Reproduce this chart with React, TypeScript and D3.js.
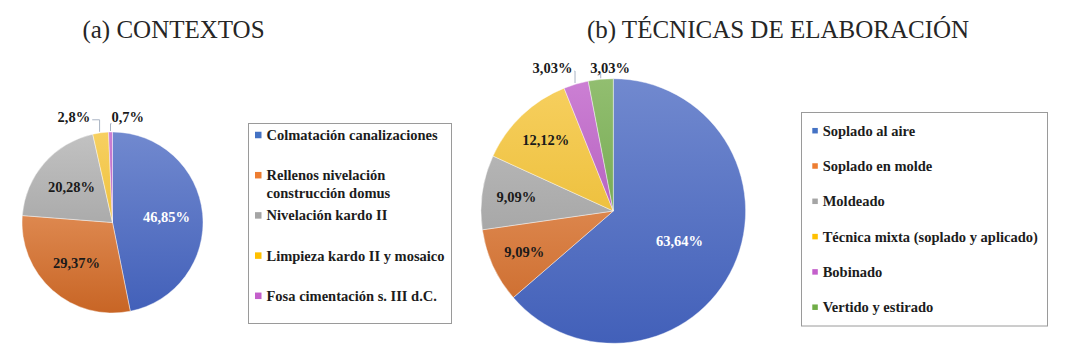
import React from "react";
import * as d3 from "d3";

// ---------- DATA ----------
const contextTitle = "(a) CONTEXTOS";
const contextCategories = [
  "Colmatación canalizaciones",
  "Rellenos nivelación construcción domus",
  "Nivelación kardo II",
  "Limpieza kardo II y mosaico",
  "Fosa cimentación s. III d.C.",
];
const contextValues = [46.85, 29.37, 20.28, 2.8, 0.7];

const techniqueTitle = "(b) TÉCNICAS DE ELABORACIÓN";
const techniqueCategories = [
  "Soplado al aire",
  "Soplado en molde",
  "Moldeado",
  "Técnica mixta (soplado y aplicado)",
  "Bobinado",
  "Vertido y estirado",
];
const techniqueValues = [63.64, 9.09, 9.09, 12.12, 3.03, 3.03];

// ---------- STYLE ----------
const sliceTop = ["#7189cf", "#f0a673", "#c2c2c2", "#f7d060", "#cc80d4", "#92be70"];
const sliceBottom = ["#4260b9", "#c86525", "#949494", "#e5b21e", "#a247ae", "#5e9a3a"];
const legendColor = ["#4472c4", "#ed7d31", "#a5a5a5", "#ffc000", "#c45fcb", "#70ad47"];
const FONT = "'Liberation Serif', 'Times New Roman', serif";

const fmt = (v: number) => String(v).replace(".", ",") + "%";

let measureCtx: CanvasRenderingContext2D | null = null;
function textWidth(t: string, font: string) {
  if (!measureCtx) measureCtx = document.createElement("canvas").getContext("2d");
  if (!measureCtx) return t.length * 7;
  measureCtx.font = font;
  return measureCtx.measureText(t).width;
}
function wrap(t: string, maxW: number, font: string) {
  const words = t.split(" ");
  const lines: string[] = [];
  let cur = "";
  for (const w of words) {
    const test = cur ? cur + " " + w : w;
    if (textWidth(test, font) > maxW && cur) {
      lines.push(cur);
      cur = w;
    } else cur = test;
  }
  if (cur) lines.push(cur);
  return lines;
}

type Layout = {
  id: string;
  cx: number;
  cy: number;
  r: number;
  titleX: number;
  insideFrac: number;
  bigFrac: number;
  outsideOffsets: { dx: number; dy: number }[];
  box: { x0: number; x1: number; y0: number; y1: number };
  markerX: number;
  markerSize: number;
  textX: number;
  rowY0: number;
  rowStep: number;
  wrapW: number;
};

function PieChart({
  title,
  categories,
  values,
  L,
}: {
  title: string;
  categories: string[];
  values: number[];
  L: Layout;
}) {
  const pie = d3.pie<number>().sort(null).value((d) => d).startAngle(0).endAngle(2 * Math.PI);
  const arcs = pie(values);
  const arc = d3.arc<d3.PieArcDatum<number>>().innerRadius(0).outerRadius(L.r);
  const labelFont = `bold 14.5px ${FONT}`;
  const legendFont = `bold 14.5px ${FONT}`;
  const maxV = d3.max(values) as number;

  let smallIdx = 0;
  const labels = arcs.map((a, i) => {
    const mid = (a.startAngle + a.endAngle) / 2;
    const txt = fmt(values[i]);
    if (values[i] >= 5) {
      const f = values[i] === maxV && values[i] > 40 ? L.bigFrac : L.insideFrac;
      const x = L.cx + Math.sin(mid) * L.r * f;
      const y = L.cy - Math.cos(mid) * L.r * f;
      return (
        <text
          key={"l" + i}
          x={x}
          y={y}
          dy="0.35em"
          textAnchor="middle"
          style={{ font: labelFont }}
          fill={i === 0 ? "#ffffff" : "#1a1a1a"}
        >
          {txt}
        </text>
      );
    }
    const off = L.outsideOffsets[smallIdx++] || { dx: 0, dy: -15 };
    const ex = L.cx + Math.sin(mid) * L.r;
    const ey = L.cy - Math.cos(mid) * L.r;
    const lx = ex + off.dx;
    const ly = ey + off.dy;
    const w = textWidth(txt, labelFont);
    const left = lx - w / 2;
    const right = lx + w / 2;
    let path: string;
    if (right < ex) path = `M${right + 2},${ly + 3} H${ex - 1} V${ey - 1}`;
    else if (left > ex) path = `M${left},${ly + 7} H${ex} V${ey - 1}`;
    else path = `M${ex},${ly + 6} V${ey - 1}`;
    return (
      <g key={"l" + i}>
        <path d={path} fill="none" stroke="#a9b3c3" strokeWidth={1} />
        <text x={lx} y={ly} dy="0.35em" textAnchor="middle" style={{ font: labelFont }} fill="#1a1a1a">
          {txt}
        </text>
      </g>
    );
  });

  let rowY = L.rowY0;
  const legendItems = categories.map((c, i) => {
    const lines = wrap(c, L.wrapW, legendFont);
    const y = L.rowY0 + i * L.rowStep;
    rowY = y;
    return (
      <g key={"lg" + i}>
        <rect
          x={L.markerX}
          y={y - L.markerSize / 2}
          width={L.markerSize}
          height={L.markerSize}
          fill={legendColor[i]}
        />
        {lines.map((ln, j) => (
          <text
            key={j}
            x={L.textX}
            y={y + j * 17.4}
            dy="0.35em"
            style={{ font: legendFont }}
            fill="#1c1c1c"
          >
            {ln}
          </text>
        ))}
      </g>
    );
  });
  void rowY;

  return (
    <g>
      <text
        x={L.titleX}
        y={38}
        textAnchor="middle"
        style={{ font: `25px ${FONT}` }}
        fill="#262626"
      >
        {title}
      </text>
      <defs>
        {arcs.map((a, i) => (
          <linearGradient
            key={i}
            id={`${L.id}-g${i}`}
            gradientUnits="userSpaceOnUse"
            x1={0}
            y1={-L.r}
            x2={0}
            y2={L.r}
          >
            <stop offset="0" stopColor={sliceTop[i]} />
            <stop offset="1" stopColor={sliceBottom[i]} />
          </linearGradient>
        ))}
      </defs>
      <g transform={`translate(${L.cx},${L.cy})`}>
        {arcs.map((a, i) => (
          <path
            key={i}
            d={arc(a) || ""}
            fill={`url(#${L.id}-g${i})`}
            stroke="#ffffff"
            strokeWidth={0.6}
            strokeOpacity={0.7}
          />
        ))}
      </g>
      {labels}
      <rect
        x={L.box.x0}
        y={L.box.y0}
        width={L.box.x1 - L.box.x0}
        height={L.box.y1 - L.box.y0}
        fill="#ffffff"
        stroke="#9a9a9a"
        strokeWidth={1}
      />
      {legendItems}
    </g>
  );
}

const layoutA: Layout = {
  id: "a",
  cx: 112.5,
  cy: 222.5,
  r: 90.5,
  titleX: 173.5,
  insideFrac: 0.6,
  bigFrac: 0.6,
  outsideOffsets: [
    { dx: -26.7, dy: -16 },
    { dx: 17.3, dy: -15.3 },
  ],
  box: { x0: 248.5, x1: 451.5, y0: 123.5, y1: 323.5 },
  markerX: 255,
  markerSize: 6.5,
  textX: 266.5,
  rowY0: 135,
  rowStep: 40.2,
  wrapW: 180,
};

const layoutB: Layout = {
  id: "b",
  cx: 613.3,
  cy: 211,
  r: 132.3,
  titleX: 778,
  insideFrac: 0.74,
  bigFrac: 0.55,
  outsideOffsets: [
    { dx: -23.5, dy: -16 },
    { dx: 9.4, dy: -11.5 },
  ],
  box: { x0: 801.5, x1: 1047.5, y0: 112.5, y1: 326 },
  markerX: 812.3,
  markerSize: 5.5,
  textX: 822.7,
  rowY0: 130.7,
  rowStep: 35.3,
  wrapW: 222,
};

export default function App() {
  return (
    <svg
      width={1068}
      height={356}
      viewBox="0 0 1068 356"
      style={{ position: "absolute", left: 0, top: 0, background: "#ffffff" }}
    >
      <rect x={0} y={0} width={1068} height={356} fill="#ffffff" />
      <PieChart title={contextTitle} categories={contextCategories} values={contextValues} L={layoutA} />
      <PieChart title={techniqueTitle} categories={techniqueCategories} values={techniqueValues} L={layoutB} />
    </svg>
  );
}
